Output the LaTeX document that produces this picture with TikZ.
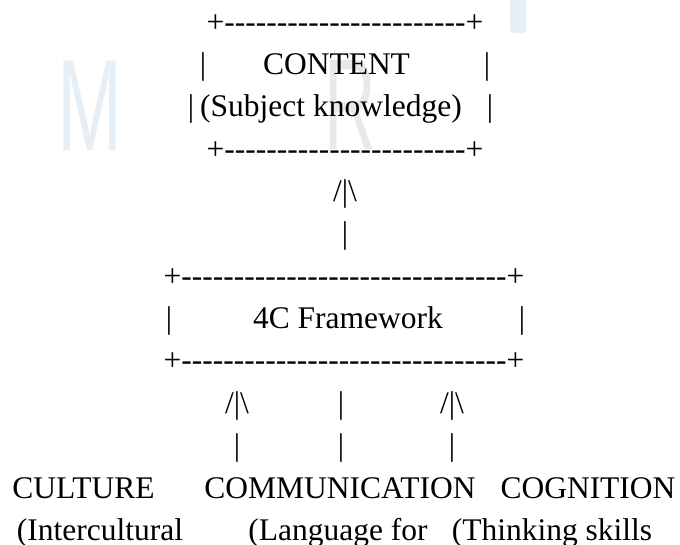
\documentclass[tikz,border=0pt]{standalone}
\usepackage{fontspec}
\setmainfont{Liberation Serif}[Ligatures=TeXOff]
\newfontfamily\markfont{Liberation Sans}
\definecolor{markblue}{HTML}{E6EEF6}
\definecolor{markgrey}{HTML}{E9E9E9}
\begin{document}
\begin{tikzpicture}[x=1pt, y=-1pt,
	txt/.style={anchor=base, inner sep=0pt, font=\fontsize{31.5}{38}\selectfont},
	wmark/.style={inner sep=0pt, font=\markfont\fontsize{130}{130}\selectfont}]
	\useasboundingbox (0, 0) rectangle (680, 544);

	\node[wmark, text=markblue, xscale=0.6] (wmM) at (89.5, 106) {M};
	\node[wmark, text=markgrey, xscale=0.55] (wmR) at (350, 105) {R};
	\fill[markblue, rounded corners=3pt] (510, -5) rectangle (526, 33);

	\node[txt] (ctop) at (345, 32) {+-----------------------+};
	\node[txt] (cl1) at (203, 74.4) {|};
	\node[txt] (ctitle) at (336.5, 74.4) {CONTENT};
	\node[txt] (cr1) at (487, 74.4) {|};
	\node[txt] (cl2) at (191, 116.7) {|};
	\node[txt] (csub) at (331, 116.7) {(Subject knowledge)};
	\node[txt] (cr2) at (490, 116.7) {|};
	\node[txt] (cbot) at (345, 159.1) {+-----------------------+};

	\node[txt] (uphead) at (345, 201.4) {/|\textbackslash};
	\node[txt] (upstem) at (345, 243.8) {|};

	\node[txt] (ftop) at (344, 286.2) {+-------------------------------+};
	\node[txt] (fl) at (169, 328.5) {|};
	\node[txt] (ftitle) at (348, 328.5) {4C Framework};
	\node[txt] (fr) at (522, 328.5) {|};
	\node[txt] (fbot) at (344, 370.9) {+-------------------------------+};

	\node[txt] (culhead) at (237, 413.2) {/|\textbackslash};
	\node[txt] (comhead) at (341, 413.2) {|};
	\node[txt] (coghead) at (452, 413.2) {/|\textbackslash};
	\node[txt] (culstem) at (237, 455.6) {|};
	\node[txt] (comstem) at (341, 455.6) {|};
	\node[txt] (cogstem) at (452, 455.6) {|};

	\node[txt] (cul) at (83.5, 498) {CULTURE};
	\node[txt] (com) at (340, 498) {COMMUNICATION};
	\node[txt] (cog) at (588, 498) {COGNITION};
	\node[txt] (culsub) at (100, 540.3) {(Intercultural};
	\node[txt] (comsub) at (338, 540.3) {(Language for};
	\node[txt] (cogsub) at (552, 540.3) {(Thinking skills};
\end{tikzpicture}
\end{document}
